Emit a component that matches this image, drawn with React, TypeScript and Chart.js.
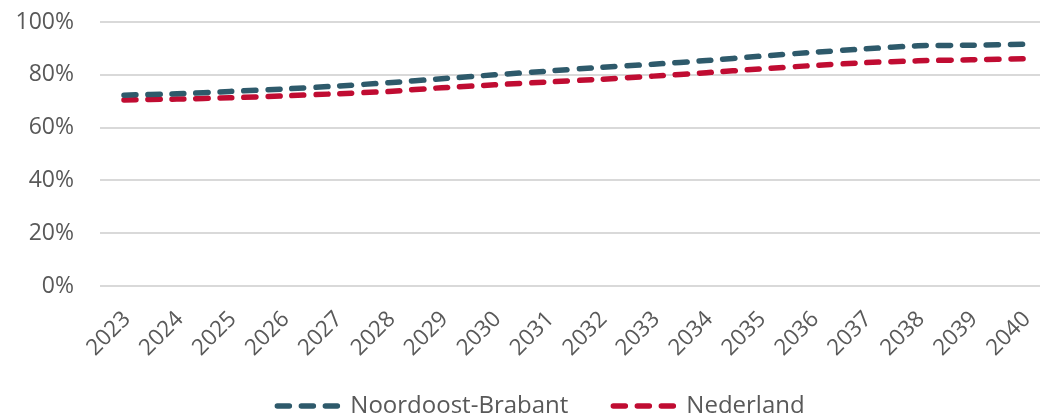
import React, { useEffect, useRef } from "react";
import { Chart, registerables } from "chart.js";

Chart.register(...registerables);

const years = [2023, 2024, 2025, 2026, 2027, 2028, 2029, 2030, 2031, 2032, 2033, 2034, 2035, 2036, 2037, 2038, 2039, 2040];
const noordoostBrabant = [72.3, 72.8, 73.7, 74.6, 75.7, 77.0, 78.5, 80.0, 81.4, 82.8, 84.0, 85.4, 87.0, 88.5, 89.8, 91.0, 91.2, 91.6];
const nederland = [70.5, 70.8, 71.3, 72.0, 72.8, 73.7, 75.1, 76.2, 77.3, 78.3, 79.5, 80.8, 82.2, 83.5, 84.6, 85.3, 85.7, 86.1];
const yTicks = [0, 20, 40, 60, 80, 100];
const seriesNames = ["Noordoost-Brabant", "Nederland"];
const seriesColors = ["#2E5A6B", "#C00C32"];

const FONT = "'Open Sans', 'DejaVu Sans', sans-serif";
const TEXT = "#595959";
const DASH = [12, 12];

const layoutTweaks = {
  id: "layoutTweaks",
  afterLayout(chart: any) {
    const l = chart.legend;
    if (l) {
      l.left += 21;
      l.right += 21;
    }
    const x = chart.scales.x;
    if (x) x.bottom = chart.height;
  },
};

export default function App() {
  const ref = useRef<HTMLCanvasElement | null>(null);

  useEffect(() => {
    if (!ref.current) return;
    const defaultGen = (Chart as any).defaults.plugins.legend.labels.generateLabels;
    const chart = new Chart(ref.current, {
      type: "line",
      data: {
        datasets: [noordoostBrabant, nederland].map((vals, k) => ({
          label: seriesNames[k],
          data: years.map((y, i) => ({ x: y, y: vals[i] })),
          borderColor: seriesColors[k],
          backgroundColor: seriesColors[k],
          borderWidth: 5.5,
          borderDash: DASH,
          borderCapStyle: "round",
          pointRadius: 0,
          tension: 0.2,
        })),
      },
      options: {
        responsive: false,
        animation: false,
        devicePixelRatio: 1,
        layout: { autoPadding: false, padding: { top: 22, left: 0, right: 0, bottom: 0 } },
        scales: {
          x: {
            type: "linear",
            min: 2022.5467,
            max: 2040.3022,
            grid: { display: false },
            border: { display: false },
            afterBuildTicks: (scale: any) => {
              scale.ticks = years.map((v) => ({ value: v }));
            },
            afterFit: (scale: any) => {
              scale.height = 63;
              scale.paddingLeft = 0;
              scale.paddingRight = 0;
              scale.paddingTop = 0;
              scale.paddingBottom = 0;
            },
            ticks: {
              autoSkip: false,
              minRotation: 45,
              maxRotation: 45,
              padding: 12,
              labelOffset: 3,
              color: TEXT,
              font: { family: FONT, size: 22.5 },
              callback: (v: any) => String(v),
            },
          },
          y: {
            min: 0,
            max: 100,
            afterBuildTicks: (scale: any) => {
              scale.ticks = yTicks.map((v) => ({ value: v }));
            },
            afterFit: (scale: any) => {
              scale.width = 100;
              scale.paddingTop = 0;
              scale.paddingBottom = 0;
              scale.paddingLeft = 0;
              scale.paddingRight = 0;
            },
            grid: { color: "#D9D9D9", lineWidth: 2, drawTicks: false },
            border: { display: false },
            ticks: {
              padding: 26,
              color: TEXT,
              font: { family: FONT, size: 23 },
              callback: (v: any) => v + "%",
            },
          },
        },
        plugins: {
          tooltip: { enabled: false },
          legend: {
            position: "bottom",
            labels: {
              usePointStyle: true,
              pointStyle: "line",
              pointStyleWidth: 61,
              padding: 45,
              color: TEXT,
              font: { family: FONT, size: 24 },
              generateLabels: (c: any) =>
                defaultGen(c).map((item: any, i: number) => ({
                  ...item,
                  pointStyle: "line",
                  strokeStyle: seriesColors[i],
                  fillStyle: seriesColors[i],
                  lineWidth: 5.5,
                  lineDash: DASH,
                  lineCap: "round",
                })),
            },
          },
        },
      },
      plugins: [layoutTweaks],
    } as any);
    return () => chart.destroy();
  }, []);

  return (
    <div style={{ position: "absolute", left: 0, top: 0, width: 1040, height: 418, overflow: "hidden", background: "#fff" }}>
      <canvas ref={ref} width={1040} height={428} style={{ display: "block", width: 1040, height: 428 }} />
    </div>
  );
}
